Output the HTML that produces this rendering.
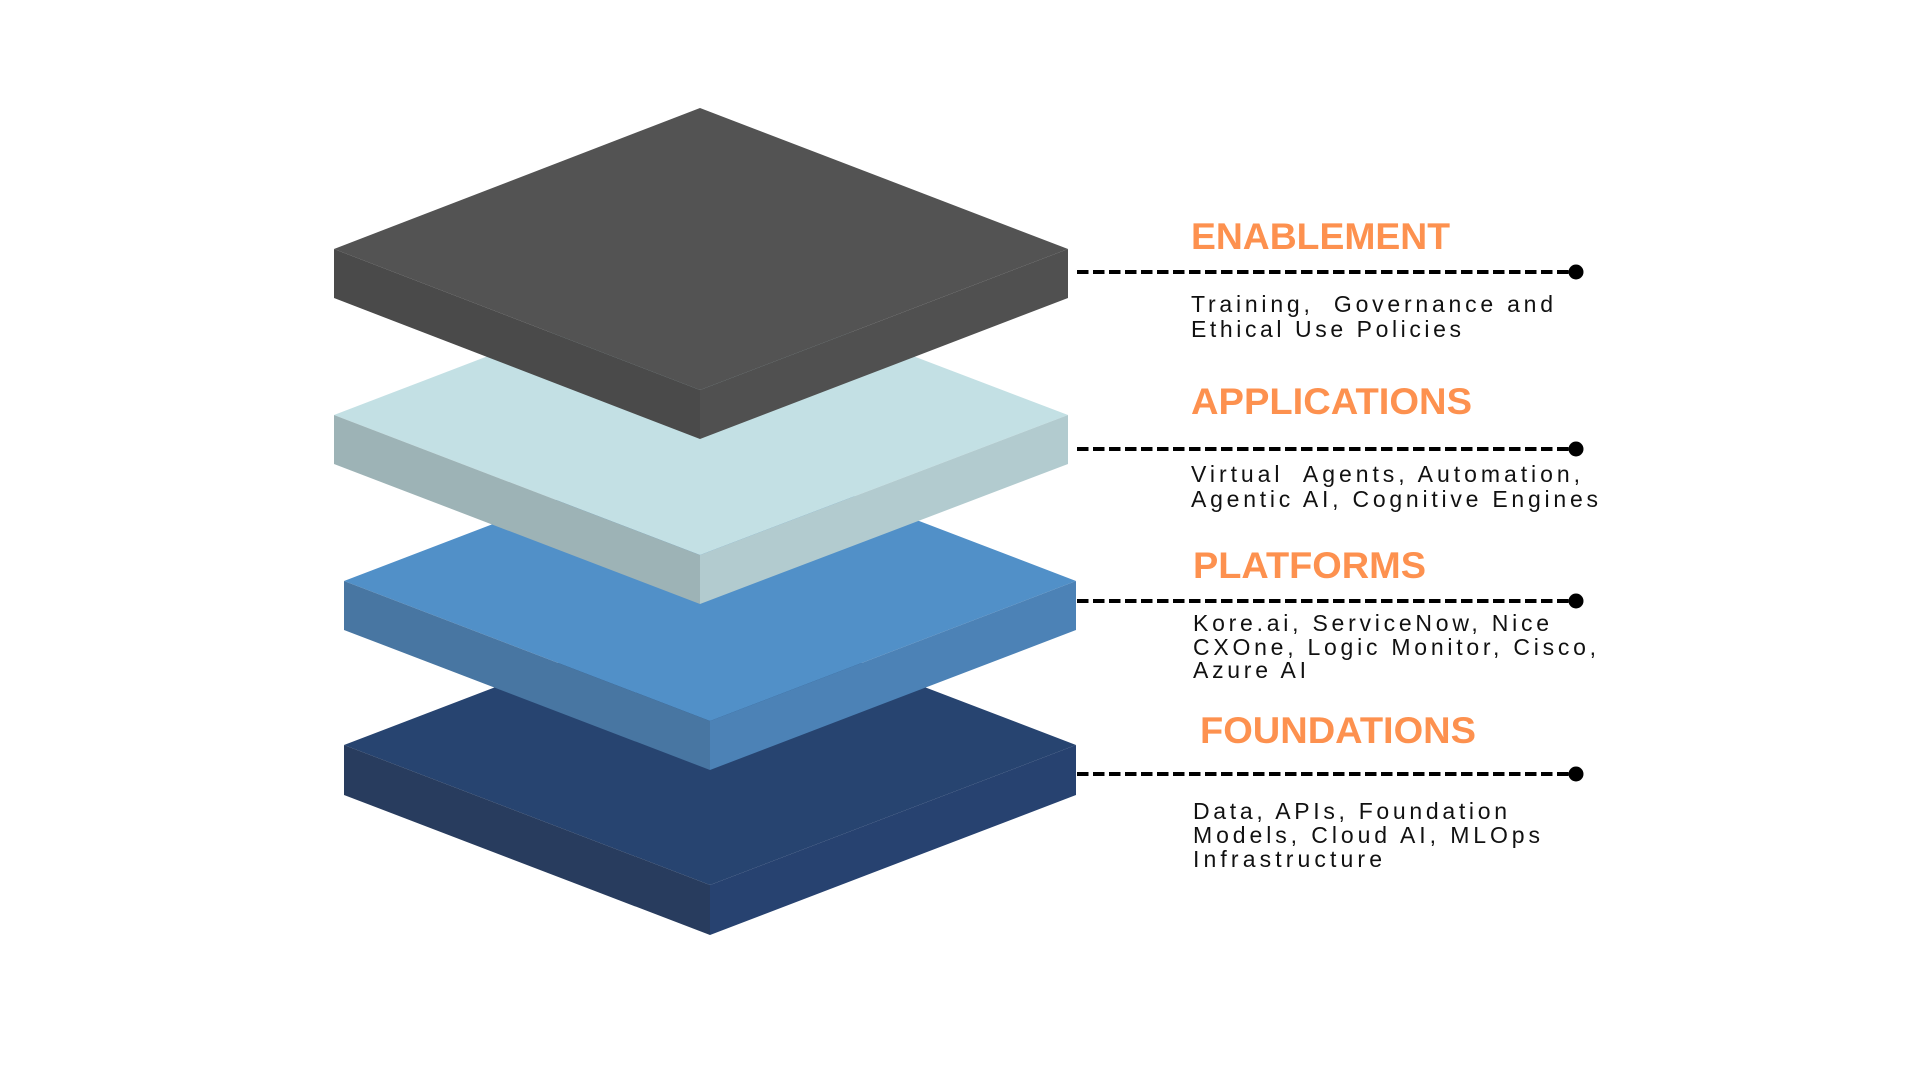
<!DOCTYPE html>
<html><head><meta charset="utf-8"><style>
html,body{margin:0;padding:0;background:#fff;width:1920px;height:1080px;overflow:hidden}
svg{display:block}
.h{font-family:"Liberation Sans",sans-serif;font-weight:bold;font-size:37px;fill:#fd914f}
.b{font-family:"Liberation Sans",sans-serif;font-size:23px;fill:#111}
</style></head><body>
<svg width="1920" height="1080" viewBox="0 0 1920 1080" xmlns="http://www.w3.org/2000/svg">
<polygon points="710,605 1076,745 710,885 344,745" fill="#274470"/>
<polygon points="344,745 710,885 710,935 344,795" fill="#283c5e"/>
<polygon points="710,885 1076,745 1076,795 710,935" fill="#274270"/>
<polygon points="710,441 1076,581 710,721 344,581" fill="#5190c8"/>
<polygon points="344,581 710,721 710,770 344,630" fill="#4876a2"/>
<polygon points="710,721 1076,581 1076,630 710,770" fill="#4c82b6"/>
<polygon points="700,275 1068,415 700,555 334,415" fill="#c3e0e4"/>
<polygon points="334,415 700,555 700,604 334,464" fill="#9db3b6"/>
<polygon points="700,555 1068,415 1068,464 700,604" fill="#b2cbcf"/>
<polygon points="700,108 1068,249 700,390 334,249" fill="#535353"/>
<polygon points="334,249 700,390 700,439 334,298" fill="#4a4a4a"/>
<polygon points="700,390 1068,249 1068,298 700,439" fill="#505050"/>

<g stroke="#000" stroke-width="4" stroke-dasharray="11.5 4.5">
<line x1="1077" y1="272" x2="1572" y2="272"/>
<line x1="1077" y1="449" x2="1572" y2="449"/>
<line x1="1077" y1="601" x2="1572" y2="601"/>
<line x1="1077" y1="774" x2="1572" y2="774"/>
</g>
<g fill="#000">
<circle cx="1576" cy="272" r="7.5"/>
<circle cx="1576" cy="449" r="7.5"/>
<circle cx="1576" cy="601" r="7.5"/>
<circle cx="1576" cy="774" r="7.5"/>
</g>

<text class="h" x="1191" y="249" textLength="259" lengthAdjust="spacingAndGlyphs">ENABLEMENT</text>
<text class="b" x="1191" y="312" textLength="362" lengthAdjust="spacing" xml:space="preserve">Training,  Governance and</text>
<text class="b" x="1191" y="337" textLength="270" lengthAdjust="spacing">Ethical Use Policies</text>

<text class="h" x="1191" y="414" textLength="281" lengthAdjust="spacingAndGlyphs">APPLICATIONS</text>
<text class="b" x="1191" y="482" textLength="389" lengthAdjust="spacing" xml:space="preserve">Virtual  Agents, Automation,</text>
<text class="b" x="1191" y="507" textLength="407" lengthAdjust="spacing">Agentic AI, Cognitive Engines</text>

<text class="h" x="1193" y="578" textLength="233" lengthAdjust="spacingAndGlyphs">PLATFORMS</text>
<text class="b" x="1193" y="631" textLength="356" lengthAdjust="spacing">Kore.ai, ServiceNow, Nice</text>
<text class="b" x="1193" y="655" textLength="403" lengthAdjust="spacing">CXOne, Logic Monitor, Cisco,</text>
<text class="b" x="1193" y="678" textLength="113" lengthAdjust="spacing">Azure AI</text>

<text class="h" x="1200" y="743" textLength="276" lengthAdjust="spacingAndGlyphs">FOUNDATIONS</text>
<text class="b" x="1193" y="819" textLength="314" lengthAdjust="spacing">Data, APIs, Foundation</text>
<text class="b" x="1193" y="843" textLength="347" lengthAdjust="spacing">Models, Cloud AI, MLOps</text>
<text class="b" x="1193" y="867" textLength="189" lengthAdjust="spacing">Infrastructure</text>
</svg>
</body></html>
